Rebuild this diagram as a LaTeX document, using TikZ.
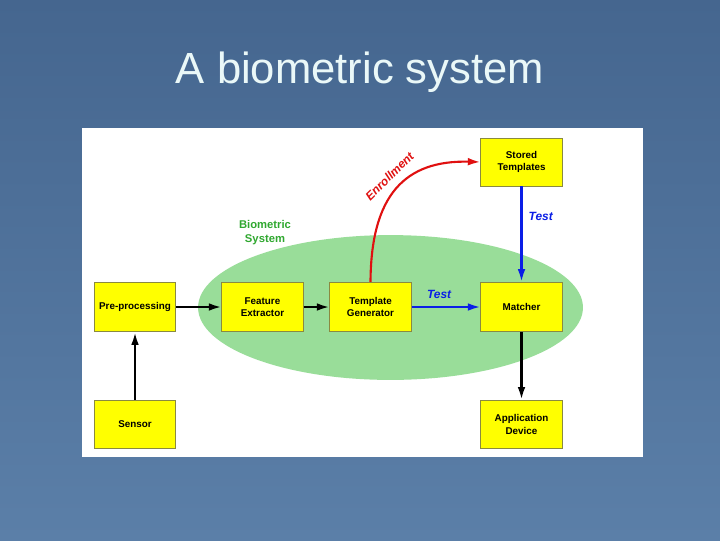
\documentclass[tikz,border=0pt]{standalone}
\usepackage{fontspec}
\setmainfont{Liberation Sans}
\setsansfont{Liberation Sans}
\usepackage{xcolor}
\usepackage{tikz}
\usetikzlibrary{arrows.meta, positioning, shapes.geometric}
\definecolor{slidetop}{HTML}{45668F}
\definecolor{slidebot}{HTML}{5B7FA8}
\definecolor{titletxt}{HTML}{EAF8F8}
\definecolor{boxyellow}{HTML}{FFFF00}
\definecolor{boxedge}{HTML}{8A8A40}
\definecolor{ovalgreen}{HTML}{99DD99}
\definecolor{bsgreen}{HTML}{30A830}
\definecolor{testblue}{HTML}{0A1EE6}
\definecolor{enrollred}{HTML}{E01010}

\begin{document}
\begin{tikzpicture}[
  x=0.025cm, y=-0.025cm,
  >={Latex[length=9pt,width=5.5pt]},
  blk/.style={
    draw=boxedge, fill=boxyellow, line width=0.6pt,
    minimum width=2.03cm, minimum height=1.24cm, align=center,
    font=\fontsize{7}{9}\selectfont\bfseries, inner sep=1pt
  },
  flow/.style={->, line width=1.6pt, black},
  test/.style={->, line width=1.5pt, testblue},
  enroll/.style={->, line width=1.5pt, enrollred},
  lbl/.style={font=\fontsize{8.5}{10}\selectfont\bfseries\itshape},
]

% slide background
\shade[top color=slidetop, bottom color=slidebot] (0,0) rectangle (720,540);
\useasboundingbox (0,0) rectangle (720,540);
\node[font=\fontsize{31}{36}\selectfont, text=titletxt] (title) at (360,72) {A biometric system};

% white panel
\fill[white] (82,128) rectangle (643,457);

% biometric system oval
\node[ellipse, fill=ovalgreen, minimum width=9.62cm, minimum height=3.62cm, inner sep=0pt]
  (bio) at (390.5,307.5) {};
\node[font=\fontsize{8}{10}\selectfont\bfseries, text=bsgreen, align=center]
  (biolbl) at (265,233) {Biometric\\System};

% modules
\node[blk] (pre)     at (135,307)   {Pre-processing};
\node[blk] (feat)    at (262.5,307) {Feature\\Extractor};
\node[blk] (tgen)    at (370.5,307) {Template\\Generator};
\node[blk] (match)   at (521.5,307) {Matcher};
\node[blk, minimum height=1.2cm] (stored) at (521.5,162) {Stored\\Templates};
\node[blk, minimum height=1.2cm] (sensor) at (135,424)   {Sensor};
\node[blk, minimum height=1.22cm] (app)   at (521.5,424.5) {Application\\Device};

% data flow
\draw[flow] (sensor) -- (pre);
\draw[flow] (pre) -- (feat);
\draw[flow] (feat) -- (tgen);
\draw[flow] (match) -- (app);

% test path
\draw[test] (tgen) -- (match) node[lbl, pos=0.4, above=2pt, text=testblue] {Test};
\draw[test] (stored) -- (match) node[lbl, pos=0.32, right=1pt, text=testblue] {Test};

% enrollment path
\draw[enroll] (tgen.north) .. controls (371,195) and (405,160) .. (stored.west)
  node[lbl, pos=0.52, sloped, above=3pt, text=enrollred] {Enrollment};

\end{tikzpicture}
\end{document}
